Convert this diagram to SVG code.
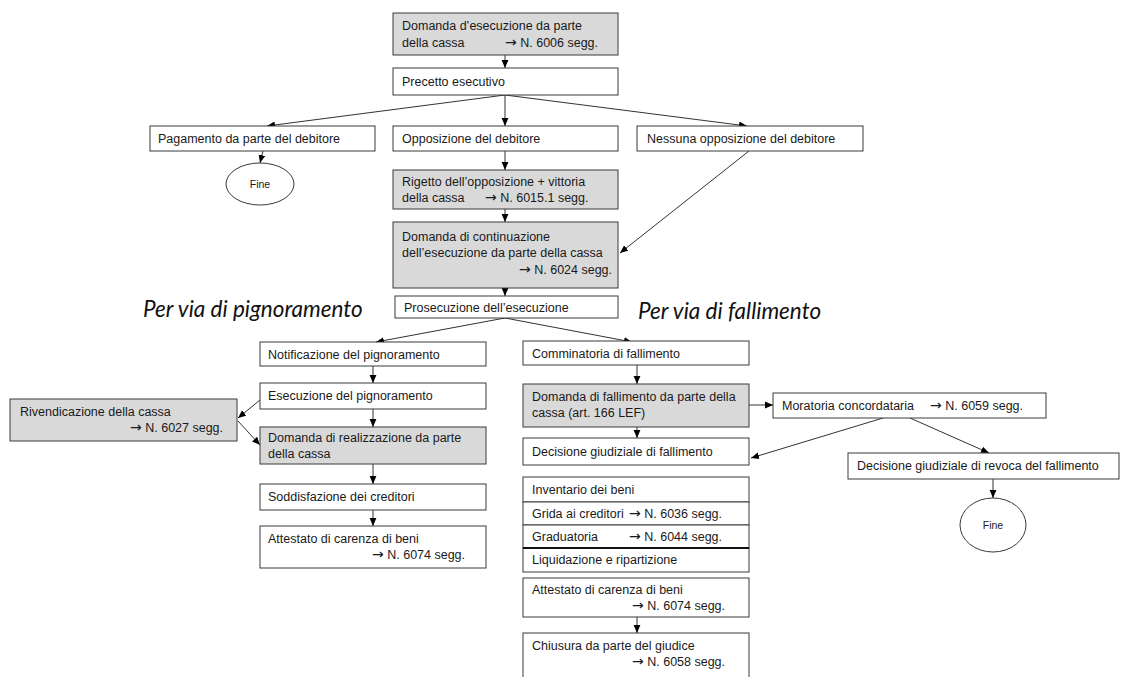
<svg xmlns="http://www.w3.org/2000/svg" width="1123" height="677" viewBox="0 0 1123 677">
<style>
.b{fill:#fff;stroke:#3a3a3a;stroke-width:1}
.g{fill:#d9d9d9;stroke:#3a3a3a;stroke-width:1}
.t{font-family:"Liberation Sans",Arial,sans-serif;font-size:12.5px;fill:#1a1a1a}
.ar{font-family:"DejaVu Sans",sans-serif;font-size:14px}
.s{font-family:"Liberation Sans",Arial,sans-serif;font-size:10.5px;fill:#1a1a1a;text-anchor:middle}
.h{font-family:Lato,"Open Sans",sans-serif;font-style:italic;font-size:22.5px;fill:#111}
.c{fill:none;stroke:#333;stroke-width:1;marker-end:url(#ah)}
</style>
<defs>
<marker id="ah" viewBox="0 0 8 8" refX="8" refY="4" markerWidth="8" markerHeight="8" orient="auto" markerUnits="userSpaceOnUse"><path d="M0,0.6 L8,4 L0,7.4 z" fill="#000"/></marker>
</defs>
<rect width="1123" height="677" fill="#fff"/>
<g id="connectors">
<line class="c" x1="505" y1="55" x2="505" y2="68"/>
<line class="c" x1="505" y1="95" x2="505" y2="126"/>
<line class="c" x1="505" y1="95" x2="267" y2="126"/>
<line class="c" x1="505" y1="95" x2="747" y2="126"/>
<line class="c" x1="263" y1="151" x2="260" y2="163"/>
<line class="c" x1="505" y1="151" x2="505" y2="170"/>
<line class="c" x1="505" y1="209" x2="505" y2="222"/>
<line class="c" x1="749" y1="151" x2="620" y2="253"/>
<line class="c" x1="505" y1="288" x2="505" y2="296"/>
<line class="c" x1="505" y1="318" x2="376" y2="342"/>
<line class="c" x1="505" y1="318" x2="632" y2="342"/>
<line class="c" x1="373" y1="366" x2="373" y2="383"/>
<line class="c" x1="373" y1="409" x2="373" y2="427"/>
<line class="c" x1="373" y1="464" x2="373" y2="484"/>
<line class="c" x1="373" y1="510" x2="373" y2="526"/>
<line class="c" x1="260" y1="400" x2="238" y2="418"/>
<line class="c" x1="238" y1="421" x2="260" y2="445"/>
<line class="c" x1="637" y1="365" x2="637" y2="384"/>
<line class="c" x1="637" y1="427" x2="637" y2="438"/>
<line class="c" x1="749" y1="405" x2="773" y2="405"/>
<line class="c" x1="883" y1="418" x2="751" y2="458"/>
<line class="c" x1="910" y1="418" x2="989" y2="453"/>
<line class="c" x1="993" y1="479" x2="993" y2="498"/>
<line class="c" x1="637" y1="617" x2="637" y2="633"/>
</g>
<g id="n-domanda-esecuzione"><rect class="g" x="393" y="13" width="225" height="42"/><text class="t" x="402" y="30">Domanda d’esecuzione da parte</text><text class="t" x="402" y="47">della cassa</text><text class="t" x="505" y="47"><tspan class="ar">→</tspan> N. 6006 segg.</text></g>
<g id="n-precetto"><rect class="b" x="393" y="68" width="225" height="27"/><text class="t" x="402" y="86">Precetto esecutivo</text></g>
<g id="n-pagamento"><rect class="b" x="150" y="126" width="225" height="25"/><text class="t" x="158" y="143">Pagamento da parte del debitore</text></g>
<g id="n-opposizione"><rect class="b" x="393" y="126" width="225" height="25"/><text class="t" x="402" y="143">Opposizione del debitore</text></g>
<g id="n-nessuna"><rect class="b" x="637" y="126" width="226" height="25"/><text class="t" x="647" y="143">Nessuna opposizione del debitore</text></g>
<g id="n-fine1"><ellipse cx="260" cy="184" rx="34" ry="21" fill="#fff" stroke="#3a3a3a"/><text class="s" x="260" y="188">Fine</text></g>
<g id="n-rigetto"><rect class="g" x="393" y="170" width="225" height="39"/><text class="t" x="402" y="186">Rigetto dell’opposizione + vittoria</text><text class="t" x="402" y="202">della cassa</text><text class="t" x="485" y="202"><tspan class="ar">→</tspan> N. 6015.1 segg.</text></g>
<g id="n-continuazione"><rect class="g" x="393" y="222" width="225" height="66"/><text class="t" x="402" y="241">Domanda di continuazione</text><text class="t" x="402" y="257">dell’esecuzione da parte della cassa</text><text class="t" x="519" y="274"><tspan class="ar">→</tspan> N. 6024 segg.</text></g>
<g id="n-prosecuzione"><rect class="b" x="395" y="296" width="223" height="22"/><text class="t" x="404" y="312">Prosecuzione dell’esecuzione</text></g>
<text class="h" x="143" y="317">Per via di pignoramento</text>
<text class="h" x="638" y="319">Per via di fallimento</text>
<g id="n-notificazione"><rect class="b" x="260" y="342" width="226" height="24"/><text class="t" x="268" y="359">Notificazione del pignoramento</text></g>
<g id="n-esecuzione-pign"><rect class="b" x="260" y="383" width="226" height="26"/><text class="t" x="268" y="400">Esecuzione del pignoramento</text></g>
<g id="n-rivendicazione"><rect class="g" x="10" y="399" width="227" height="42"/><text class="t" x="20" y="416">Rivendicazione della cassa</text><text class="t" x="130" y="432"><tspan class="ar">→</tspan> N. 6027 segg.</text></g>
<g id="n-realizzazione"><rect class="g" x="260" y="427" width="226" height="37"/><text class="t" x="268" y="442">Domanda di realizzazione da parte</text><text class="t" x="268" y="458">della cassa</text></g>
<g id="n-soddisfazione"><rect class="b" x="260" y="484" width="226" height="26"/><text class="t" x="268" y="501">Soddisfazione dei creditori</text></g>
<g id="n-attestato1"><rect class="b" x="260" y="526" width="226" height="42"/><text class="t" x="268" y="543">Attestato di carenza di beni</text><text class="t" x="372" y="559"><tspan class="ar">→</tspan> N. 6074 segg.</text></g>
<g id="n-comminatoria"><rect class="b" x="523" y="341" width="226" height="24"/><text class="t" x="532" y="358">Comminatoria di fallimento</text></g>
<g id="n-domanda-fallimento"><rect class="g" x="523" y="384" width="226" height="43"/><text class="t" x="532" y="401">Domanda di fallimento da parte della</text><text class="t" x="532" y="417">cassa (art. 166 LEF)</text></g>
<g id="n-moratoria"><rect class="b" x="773" y="393" width="273" height="25"/><text class="t" x="782" y="410">Moratoria concordataria</text><text class="t" x="930" y="410"><tspan class="ar">→</tspan> N. 6059 segg.</text></g>
<g id="n-decisione"><rect class="b" x="523" y="438" width="226" height="27"/><text class="t" x="532" y="456">Decisione giudiziale di fallimento</text></g>
<g id="n-revoca"><rect class="b" x="848" y="453" width="271" height="26"/><text class="t" x="857" y="470">Decisione giudiziale di revoca del fallimento</text></g>
<g id="n-fine2"><ellipse cx="993" cy="525" rx="33" ry="27" fill="#fff" stroke="#3a3a3a"/><text class="s" x="993" y="529">Fine</text></g>
<g id="n-inventario"><rect class="b" x="523" y="477" width="226" height="25"/><text class="t" x="532" y="494">Inventario dei beni</text></g>
<g id="n-grida"><rect class="b" x="523" y="502" width="226" height="23"/><text class="t" x="532" y="518">Grida ai creditori</text><text class="t" x="629" y="518"><tspan class="ar">→</tspan> N. 6036 segg.</text></g>
<g id="n-graduatoria"><rect class="b" x="523" y="525" width="226" height="23"/><text class="t" x="532" y="541">Graduatoria</text><text class="t" x="629" y="541"><tspan class="ar">→</tspan> N. 6044 segg.</text></g>
<g id="n-liquidazione"><rect class="b" x="523" y="548" width="226" height="24"/><line x1="523" y1="548" x2="749" y2="548" stroke="#111" stroke-width="2"/><text class="t" x="532" y="564">Liquidazione e ripartizione</text></g>
<g id="n-attestato2"><rect class="b" x="523" y="578" width="226" height="39"/><text class="t" x="532" y="594">Attestato di carenza di beni</text><text class="t" x="632" y="610"><tspan class="ar">→</tspan> N. 6074 segg.</text></g>
<g id="n-chiusura"><rect class="b" x="523" y="633" width="226" height="50"/><text class="t" x="532" y="650">Chiusura da parte del giudice</text><text class="t" x="632" y="666"><tspan class="ar">→</tspan> N. 6058 segg.</text></g>
</svg>
